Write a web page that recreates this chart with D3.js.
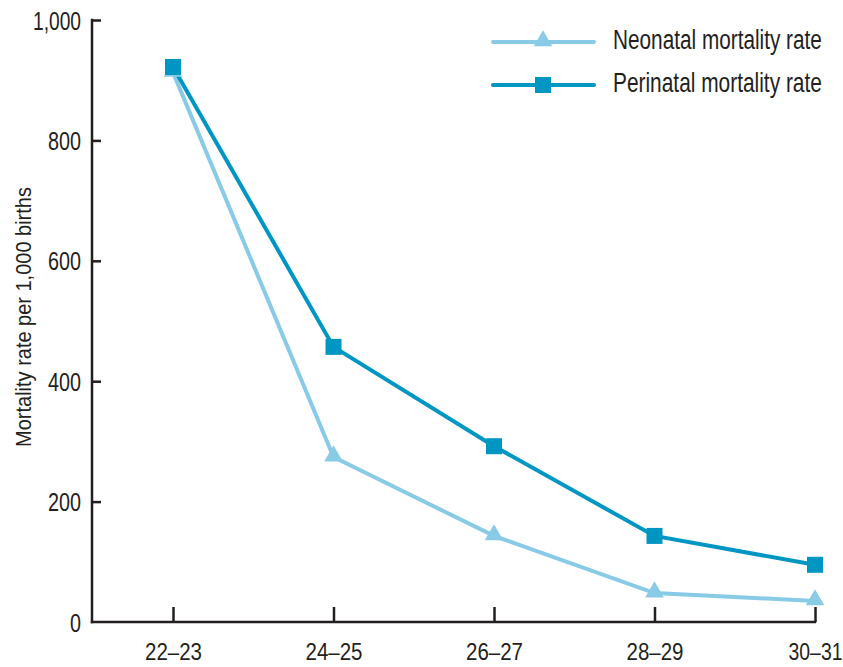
<!DOCTYPE html>
<html><head><meta charset="utf-8">
<script src="https://cdn.jsdelivr.net/npm/d3@7"></script>
<style>
body{margin:0;background:#fff;}
text{font-family:"Liberation Sans","Arial",sans-serif;fill:#231f20;}
</style></head>
<body><svg id="c" width="843" height="667"></svg>
<script>
const categories = ["22–23","24–25","26–27","28–29","30–31"];
const neonatal = [913, 274, 143, 48, 35];
const perinatal = [922, 457, 292, 143, 95];
const yTicks = [0, 200, 400, 600, 800, 1000];
const seriesNames = ["Neonatal mortality rate","Perinatal mortality rate"];

const svg = d3.select("#c");
const x0 = 92, x1 = 815, yTop = 20, yBot = 622;
const x = d3.scalePoint().domain(categories).range([173, x1]);
const y = d3.scaleLinear().domain([0, 1000]).range([yBot, yTop]);
const axisColor = "#231f20";
const fmt = d3.format(",");

// condense a text horizontally (narrow typeface look) to a target width, keeping its anchor point
function condense(node, targetW) {
  const t = d3.select(node);
  const w = node.getComputedTextLength();
  const k = targetW / w;
  const ax = +t.attr("x") || 0;
  t.attr("x", ax / k).attr("transform", `scale(${k},1)`);
}

// y axis
const ya = svg.append("g").attr("transform", `translate(${x0},0)`)
  .call(d3.axisRight(y).tickValues(yTicks).tickSize(9).tickFormat(fmt));
ya.select(".domain").remove();
ya.selectAll(".tick line").attr("stroke", axisColor).attr("stroke-width", 2.5);
ya.selectAll(".tick").filter(d => d === 0).select("line").remove();
ya.selectAll(".tick text").attr("x", -11).attr("dy", null).attr("y", 9).attr("text-anchor", "end")
  .attr("font-size", 25).attr("fill", axisColor)
  .attr("font-family", "'Liberation Sans',Arial,sans-serif")
  .each(function(d) {
    const s = fmt(d);
    condense(this, s.length === 5 ? 48 : s.length * 11);
  });
svg.append("line").attr("x1", x0).attr("x2", x0).attr("y1", yTop - 1.2).attr("y2", yBot + 1.2)
  .attr("stroke", axisColor).attr("stroke-width", 2.5);

// x axis
const xa = svg.append("g").attr("transform", `translate(0,${yBot})`)
  .call(d3.axisTop(x).tickSize(15).tickFormat(d => d));
xa.select(".domain").remove();
xa.selectAll(".tick line").attr("stroke", axisColor).attr("stroke-width", 2.5);
xa.selectAll(".tick text").attr("y", 38).attr("dy", null)
  .attr("font-size", 24.5).attr("fill", axisColor)
  .attr("font-family", "'Liberation Sans',Arial,sans-serif")
  .each(function(d, i) { condense(this, i === categories.length - 1 ? 54 : 57); });
svg.append("line").attr("x1", x0 - 1.2).attr("x2", x1 + 1.2).attr("y1", yBot).attr("y2", yBot)
  .attr("stroke", axisColor).attr("stroke-width", 2.5);

// y label
const yl = svg.append("g").attr("transform", `translate(31,317) rotate(-90)`);
yl.append("text").attr("text-anchor", "middle").attr("font-size", 22)
  .text("Mortality rate per 1,000 births")
  .each(function() { condense(this, 260); });

const colN = "#89cbe6", colP = "#0096c4";
const line = d3.line().x((d,i) => x(categories[i])).y(d => y(d));
const tri = d3.symbol().type(d3.symbolTriangle).size(150);

svg.append("path").datum(neonatal).attr("d", line).attr("fill","none").attr("stroke", colN).attr("stroke-width", 4);
svg.append("path").datum(perinatal).attr("d", line).attr("fill","none").attr("stroke", colP).attr("stroke-width", 4);

svg.selectAll(".tri").data(neonatal).enter().append("path")
  .attr("d", tri).attr("fill", colN)
  .attr("transform", (d,i) => `translate(${x(categories[i])},${y(d)-1})`);
svg.selectAll(".sq").data(perinatal).enter().append("rect")
  .attr("x", (d,i) => x(categories[i]) - 8).attr("y", d => y(d) - 8)
  .attr("width", 16).attr("height", 16).attr("fill", colP);

// legend
const lg = svg.append("g");
const rows = [{name: seriesNames[0], c: colN, m: "tri", yy: 42}, {name: seriesNames[1], c: colP, m: "sq", yy: 85}];
rows.forEach(r => {
  lg.append("line").attr("x1", 493).attr("x2", 594).attr("y1", r.yy).attr("y2", r.yy)
    .attr("stroke", r.c).attr("stroke-width", 4).attr("stroke-linecap", "round");
  if (r.m === "tri") lg.append("path").attr("d", tri).attr("fill", r.c).attr("transform", `translate(543,${r.yy-1})`);
  else lg.append("rect").attr("x", 535).attr("y", r.yy - 8).attr("width", 16).attr("height", 16).attr("fill", r.c);
  lg.append("text").attr("x", 613).attr("y", r.yy + 7).attr("font-size", 28).text(r.name)
    .each(function() { condense(this, 209); });
});
</script></body></html>
